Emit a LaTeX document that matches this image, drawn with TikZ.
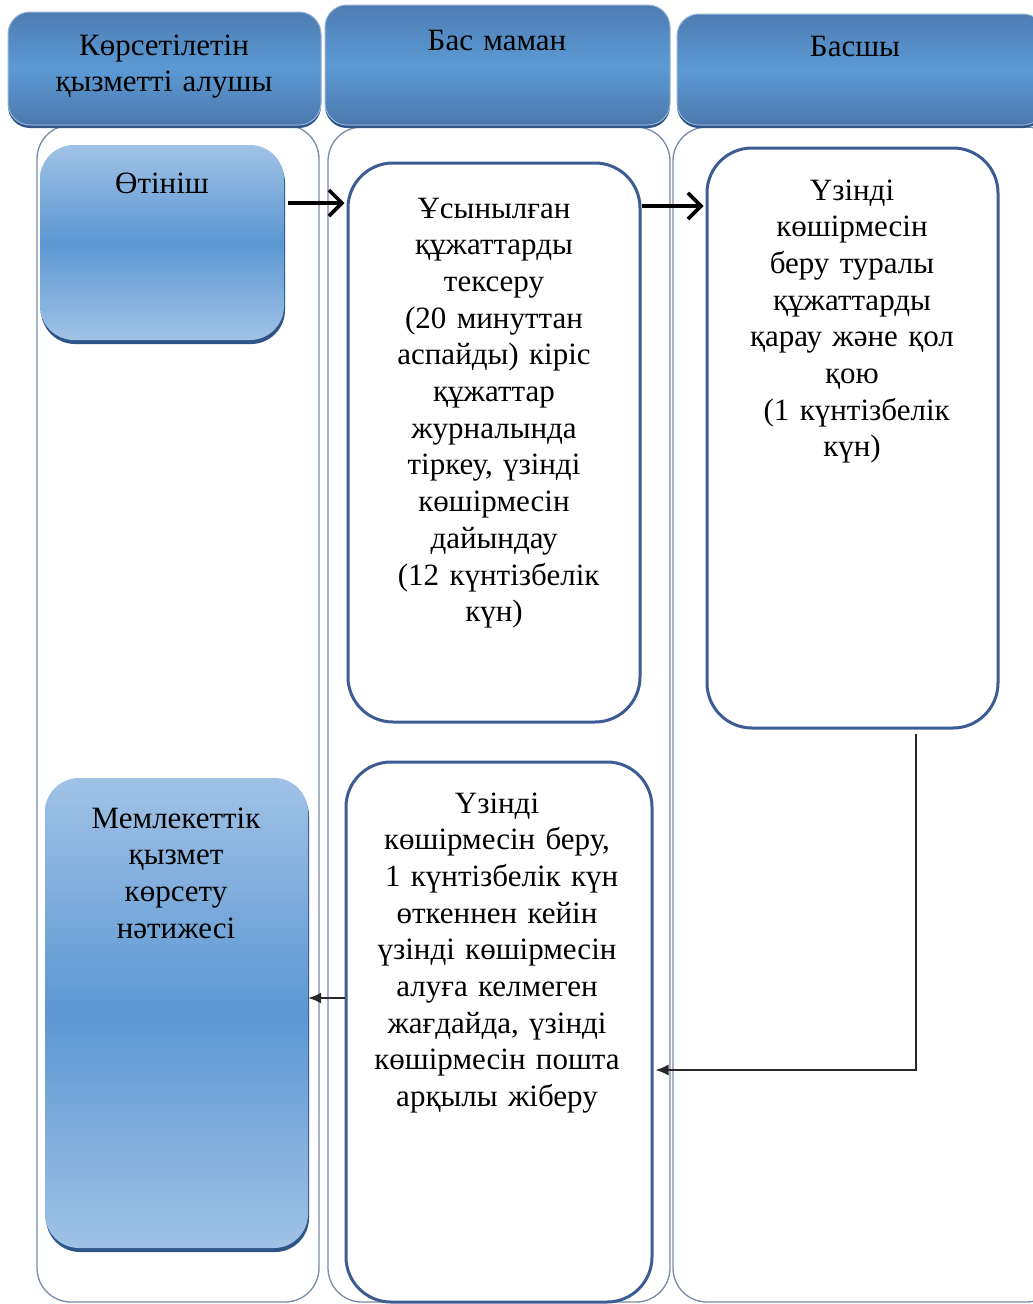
\documentclass[tikz,border=0pt]{standalone}
\usepackage{fontspec}
\setmainfont{Liberation Serif}
\usetikzlibrary{arrows.meta,shadows}
\definecolor{laneC}{RGB}{120,138,165}
\definecolor{boxC}{RGB}{62,92,148}
\definecolor{hdrTop}{RGB}{78,124,178}
\definecolor{hdrMid}{RGB}{92,154,212}
\definecolor{hdrBot}{RGB}{76,120,172}
\definecolor{hdrEdge}{RGB}{150,180,215}
\definecolor{bLight}{RGB}{160,194,230}
\definecolor{bMid}{RGB}{92,151,210}
\definecolor{shadowC}{RGB}{45,85,135}
\definecolor{lineC}{RGB}{40,40,40}
\begin{document}
\begin{tikzpicture}[x=1pt,y=-1pt,
  txt/.style={font=\fontsize{31}{36.7}\selectfont, align=center, anchor=base, inner sep=0pt, text=black, text width=#1},
  txt/.default=320pt,
  lanebox/.style={draw=laneC, line width=1.3pt, rounded corners=34pt, inner sep=0pt},
  hdr/.style={rounded corners=22pt, inner sep=0pt, top color=hdrTop, bottom color=hdrBot, middle color=hdrMid, draw=hdrEdge, line width=1pt, general shadow={fill=shadowC, shadow yshift=-3pt}},
  bluebox/.style={rounded corners=34pt, inner sep=0pt, top color=bLight, bottom color=bLight, middle color=bMid, general shadow={fill=shadowC, shadow yshift=-4pt, shadow xshift=1pt}},
  whitebox/.style={draw=boxC, line width=3pt, fill=white, rounded corners=45pt, inner sep=0pt},
  bigarrow/.style={line width=3.6pt, -{Straight Barb[length=13pt,width=26pt]}},
  thinarrow/.style={draw=lineC, line width=1.6pt, -{Latex[length=13pt,width=11pt]}},
]
\useasboundingbox (0,0) rectangle (1033,1304);
\fill[white] (0,0) rectangle (1033,1304);

% lanes
\node[lanebox, minimum width=282pt, minimum height=1177pt] (laneA) at (178,713.5) {};
\node[lanebox, minimum width=342pt, minimum height=1175pt] (laneB) at (499,714.5) {};
\node[lanebox, minimum width=387pt, minimum height=1175pt] (laneC) at (866.5,714.5) {};

% headers
\node[hdr, minimum width=313pt, minimum height=113pt] (hdrA) at (164.5,68.5) {};
\node[hdr, minimum width=345pt, minimum height=120pt] (hdrB) at (497.5,65) {};
\node[hdr, minimum width=368pt, minimum height=111pt] (hdrC) at (861,69.5) {};
\node[txt] (thA) at (164,55) {Көрсетілетін\\қызметті алушы};
\node[txt] (thB) at (497,50) {Бас маман};
\node[txt] (thC) at (855,56) {Басшы};

% boxes
\node[bluebox, minimum width=244pt, minimum height=195pt] (otinish) at (162,242.5) {};
\node[txt] (tO) at (162,193) {Өтініш};

\node[whitebox, minimum width=292pt, minimum height=559pt] (boxA) at (494,442.5) {};
\node[txt=290pt] (tA) at (494,218) {Ұсынылған\\құжаттарды\\тексеру\\(20 минуттан\\аспайды) кіріс\\құжаттар\\журналында\\тіркеу, үзінді\\көшірмесін\\дайындау\\\hspace*{0.3em}(12 күнтізбелік\\күн)};

\node[whitebox, minimum width=291pt, minimum height=580pt] (boxB) at (852.5,438) {};
\node[txt=290pt] (tB) at (852,200) {Үзінді\\көшірмесін\\беру туралы\\құжаттарды\\қарау және қол\\қою\\\hspace*{0.3em}(1 күнтізбелік\\күн)};

\node[whitebox, minimum width=306pt, minimum height=540pt] (boxC) at (499,1032) {};
\node[txt=300pt] (tC) at (497,813) {Үзінді\\көшірмесін беру,\\\hspace*{0.3em}1 күнтізбелік күн\\өткеннен кейін\\үзінді көшірмесін\\алуға келмеген\\жағдайда, үзінді\\көшірмесін пошта\\арқылы жіберу};

\node[bluebox, minimum width=263pt, minimum height=470pt] (result) at (176.5,1013) {};
\node[txt=260pt] (tD) at (176,828) {Мемлекеттік\\қызмет\\көрсету\\нәтижесі};

% connectors
\coordinate (r1) at (0,203);
\coordinate (r2) at (0,206);
\coordinate (r3) at (0,1070);
\coordinate (r4) at (0,998);
\draw[bigarrow] ([xshift=4pt]otinish.east |- r1) -- ([xshift=-2pt]boxA.west |- r1);
\draw[bigarrow] (boxA.east |- r2) -- ([xshift=-2pt]boxB.west |- r2);
\draw[thinarrow] ([xshift=63.5pt,yshift=-4pt]boxB.south) |- ([xshift=2pt]boxC.east |- r3);
\draw[thinarrow] (boxC.west |- r4) -- (result.east |- r4);
\end{tikzpicture}
\end{document}
